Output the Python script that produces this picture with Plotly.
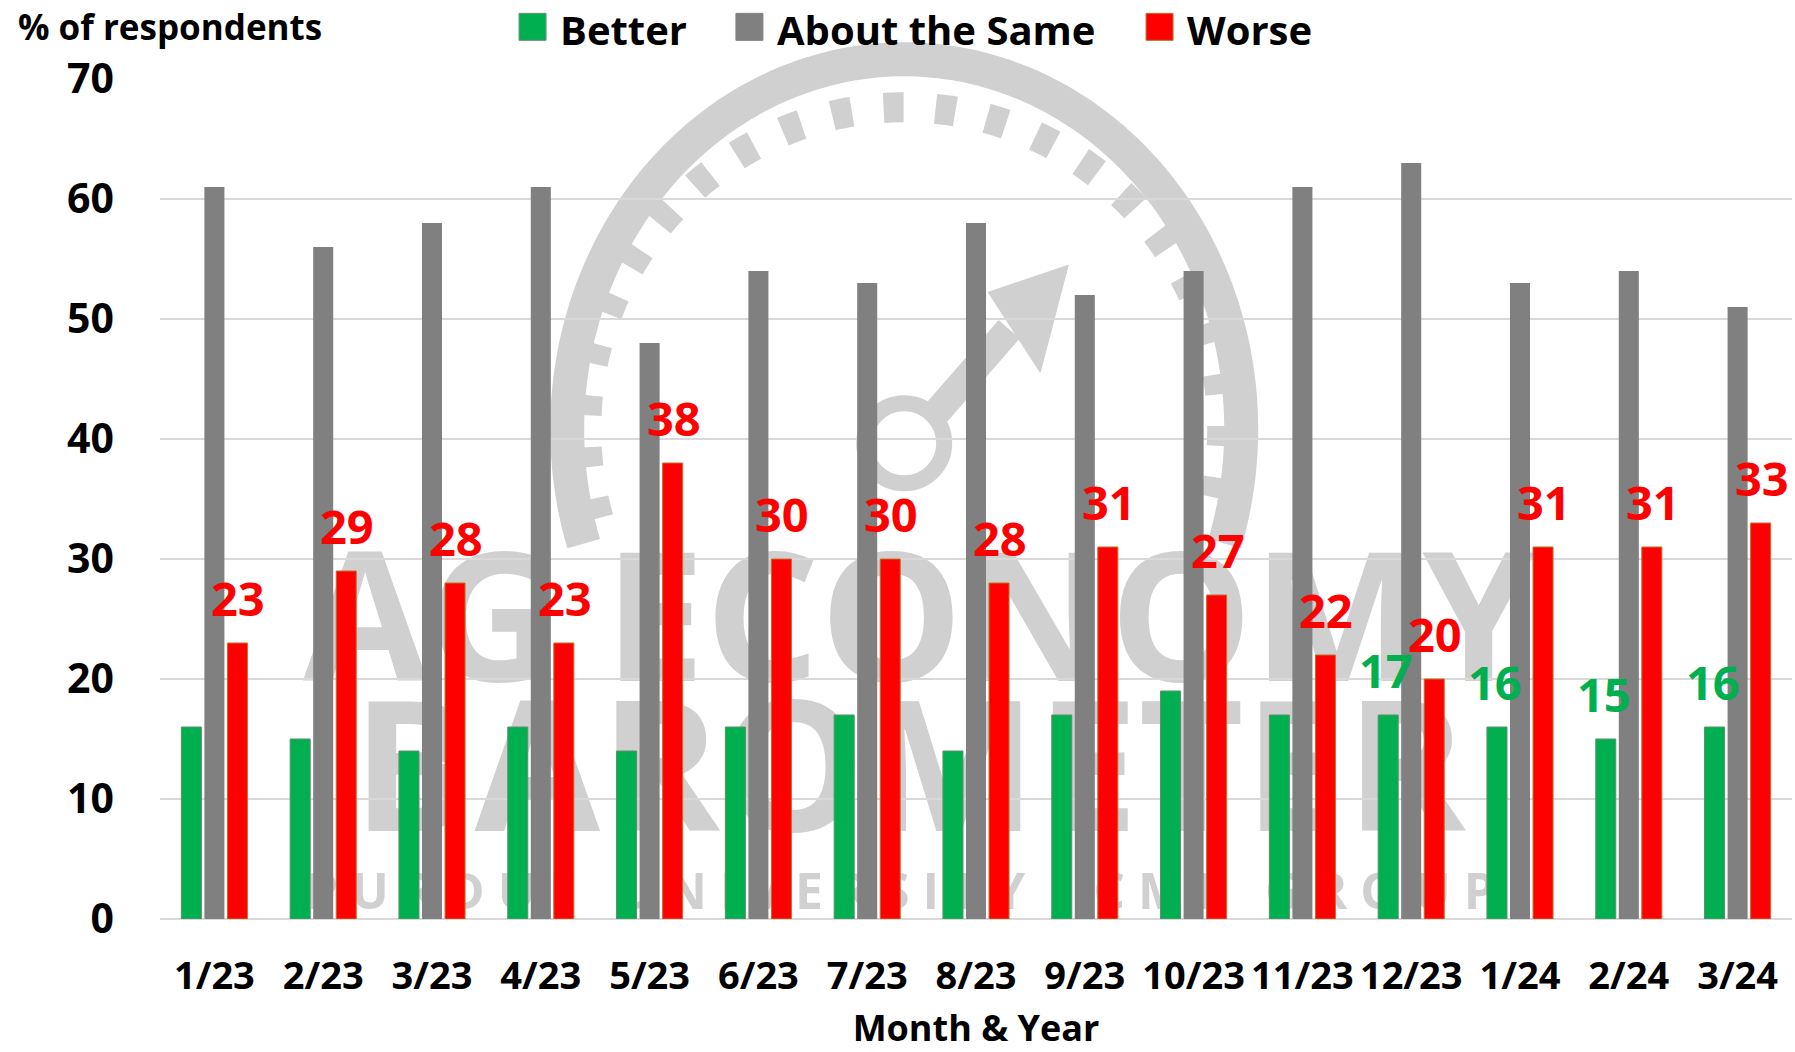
import numpy as np
import plotly.graph_objects as go

months = ["1/23", "2/23", "3/23", "4/23", "5/23", "6/23", "7/23", "8/23",
          "9/23", "10/23", "11/23", "12/23", "1/24", "2/24", "3/24"]
better = [16, 15, 14, 16, 14, 16, 17, 14, 17, 19, 17, 17, 16, 15, 16]
same = [61, 56, 58, 61, 48, 54, 53, 58, 52, 54, 61, 63, 53, 54, 51]
worse = [23, 29, 28, 23, 38, 30, 30, 28, 31, 27, 22, 20, 31, 31, 33]
better_labelled = ["12/23", "1/24", "2/24", "3/24"]
y_ticks = [0, 10, 20, 30, 40, 50, 60, 70]
series_names = ["Better", "About the Same", "Worse"]

GREEN = "#00B050"
GRAY = "#808080"
RED = "#FF0000"
WM = "#D0D0D0"
FONT = "Open Sans"

fig = go.Figure()
fig.add_trace(go.Bar(name=series_names[0], x=months, y=better, showlegend=False,
                     marker=dict(color=GREEN, line=dict(color="#5E8F6A", width=1))))
fig.add_trace(go.Bar(name=series_names[1], x=months, y=same, showlegend=False,
                     marker=dict(color=GRAY, line=dict(color=GRAY, width=0))))
fig.add_trace(go.Bar(name=series_names[2], x=months, y=worse, showlegend=False,
                     marker=dict(color=RED, line=dict(color="#C0702A", width=1))))

annotations = []
for m, w in zip(months, worse):
    annotations.append(dict(x=m, y=w, xref="x", yref="y", text=str(w),
                            showarrow=False, xshift=24, yshift=11, yanchor="bottom",
                            font=dict(family=FONT, size=47, color=RED, weight="bold")))
for m, b in zip(months, better):
    if m in better_labelled:
        annotations.append(dict(x=m, y=b, xref="x", yref="y", text=str(b),
                                showarrow=False, xshift=-25, yshift=11, yanchor="bottom",
                                font=dict(family=FONT, size=47, color=GREEN, weight="bold")))
annotations.append(dict(x=-0.088, y=1.0925, xref="paper", yref="paper",
                        text="% of respondents", showarrow=False,
                        xanchor="left", yanchor="top",
                        font=dict(family=FONT, size=35, color="black", weight="bold")))

# custom legend (large square swatches)
shapes = []
legend_items = [(series_names[0], GREEN, "#6E8F76", 0.220, 0.2439),
                (series_names[1], GRAY, GRAY, 0.3529, 0.3768),
                (series_names[2], RED, "#C0702A", 0.6042, 0.6281)]
for name, col, edge, bx, tx in legend_items:
    shapes.append(dict(type="rect", xref="paper", yref="paper",
                       xsizemode="pixel", ysizemode="pixel", xanchor=bx, yanchor=1.0615,
                       x0=0, x1=27, y0=-13, y1=14, fillcolor=col,
                       line=dict(color=edge, width=1)))
    annotations.append(dict(x=tx, y=1.0935, xref="paper", yref="paper", text=name,
                            showarrow=False, xanchor="left", yanchor="top",
                            font=dict(family=FONT, size=40, color="black", weight="bold")))

# watermark (drawn below the traces)
wm_text = [("AG ECONOMY", 0.465, 0.352, 180),
           ("BAROMETER", 0.459, 0.174, 182),
           ("P\u00a0U\u00a0R\u00a0D\u00a0U\u00a0E\u00a0\u00a0\u00a0U\u00a0N\u00a0I\u00a0V\u00a0E\u00a0R\u00a0S\u00a0I\u00a0T\u00a0Y"
            "\u00a0\u00a0-\u00a0\u00a0C\u00a0M\u00a0E\u00a0\u00a0\u00a0G\u00a0R\u00a0O\u00a0U\u00a0P", 0.454, 0.031, 50)]
for txt, xc, yc, size in wm_text:
    shapes.append(dict(type="rect", xref="paper", yref="paper",
                       x0=xc - 0.45, x1=xc + 0.45, y0=yc - 0.1, y1=yc + 0.1,
                       line=dict(width=0), fillcolor="rgba(0,0,0,0)", layer="below",
                       label=dict(text=txt, textposition="middle center",
                                  font=dict(family=FONT, size=size, color=WM,
                                            weight="bold"))))

cx, cy = 0.456, 0.583


def arc_path(rx, ry, a0, a1, n=140):
    t = np.radians(np.linspace(a0, a1, n))
    pts = [f"{rx*np.cos(a):.1f},{ry*np.sin(a):.1f}" for a in t]
    return "M" + " L".join(pts)


def pix(**kw):
    d = dict(xref="paper", yref="paper", xsizemode="pixel", ysizemode="pixel",
             xanchor=cx, yanchor=cy, layer="below")
    d.update(kw)
    return d


shapes.append(pix(type="path", path=arc_path(337, 370, 198, -18),
                  line=dict(color=WM, width=34)))
shapes.append(pix(type="path", path=arc_path(318, 322, 196, -16),
                  line=dict(color=WM, width=30, dash="20px,32px")))
shapes.append(pix(type="circle", x0=-40, x1=40, y0=-54, y1=26,
                  line=dict(color=WM, width=16)))
shapes.append(pix(type="path", path="M30,14 L105,100", line=dict(color=WM, width=28)))
shapes.append(pix(type="path", path="M164,164 L84,137 L136,57 Z",
                  line=dict(color=WM, width=1), fillcolor=WM))

fig.update_layout(
    width=1795, height=1052,
    margin=dict(l=160, r=3, t=79, b=133, autoexpand=False),
    paper_bgcolor="white", plot_bgcolor="white",
    barmode="group", bargap=0.365, bargroupgap=0.13,
    font=dict(family=FONT, color="black"),
    showlegend=False,
    annotations=annotations,
    shapes=shapes,
    xaxis=dict(type="category", showgrid=False, showline=False, ticks="", automargin=False,
               tickfont=dict(family=FONT, size=38, color="black", weight="bold"),
               ticklabelstandoff=31,
               title=dict(text="Month & Year", standoff=38,
                          font=dict(family=FONT, size=36, color="black", weight="bold"))),
    yaxis=dict(range=[0, 70], tickvals=y_ticks, showgrid=True, gridcolor="#D9D9D9",
               gridwidth=2, zeroline=True, zerolinecolor="#D9D9D9", zerolinewidth=2,
               showline=False, ticks="", ticklabelstandoff=45, automargin=False,
               tickfont=dict(family=FONT, size=41, color="black", weight="bold")),
)

fig.write_html("out.html", config={"displayModeBar": False},
               post_script="document.body.style.margin='0';document.body.style.padding='0';")
